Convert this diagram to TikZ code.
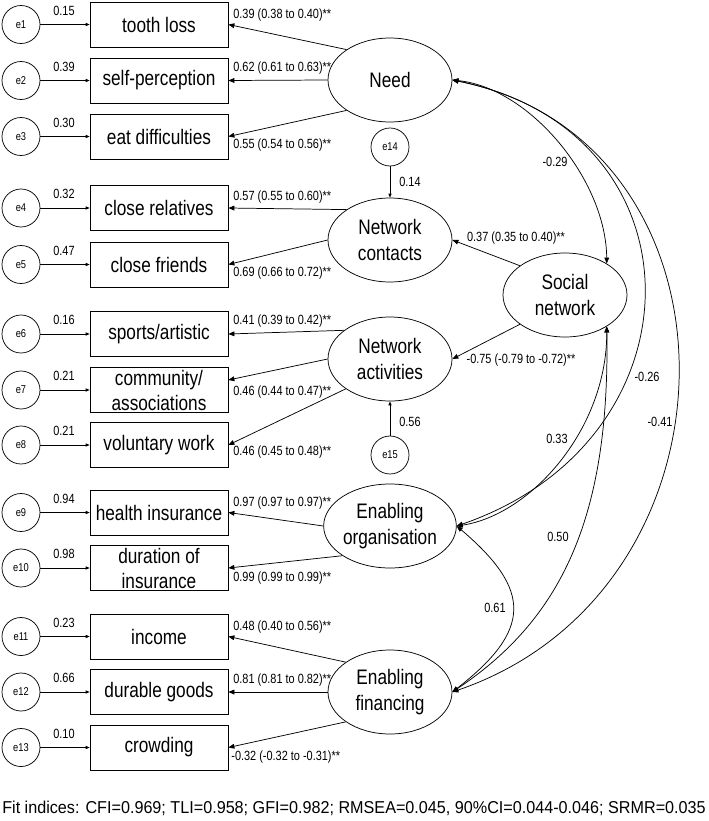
\documentclass[tikz,border=0pt]{standalone}
\usepackage{fontspec}
\setmainfont{Liberation Sans}[FakeStretch=0.82]
\newfontfamily\fitfont{Liberation Sans}[FakeStretch=0.94]
\usetikzlibrary{shapes.geometric,arrows.meta}
\begin{document}
\begin{tikzpicture}[x=0.75pt,y=-0.75pt, line width=0.55pt,
  errc/.style={circle,draw,minimum size=28.5pt,inner sep=0pt,font=\fontsize{8.5}{10}\selectfont},
  obs/.style={rectangle,draw,minimum width=103.5pt,minimum height=33.75pt,inner sep=0pt,align=center,font=\fontsize{15.75}{18.75}\selectfont},
  lat/.style={ellipse,draw,minimum width=93pt,minimum height=63pt,inner sep=0pt,align=center,font=\fontsize{15.75}{19.5}\selectfont},
  lbl/.style={font=\fontsize{10}{12}\selectfont,inner sep=0pt},
  ld/.style={lbl,anchor=west},
  earr/.style={-{Triangle[length=3pt,width=2.4pt]}},
  arr/.style={-{Triangle[length=4.5pt,width=3.6pt]}},
  dbl/.style={{Triangle[length=4.5pt,width=3.6pt]}-{Triangle[length=4.5pt,width=3.6pt]}},
]
\useasboundingbox (0,0) rectangle (709,821);

% observed variables and errors
\foreach \i/\y/\t/\v in {1/24.5/{tooth loss}/0.15, 2/80.5/{self-perception}/0.39, 3/136.5/{eat difficulties}/0.30,
  4/208/{close relatives}/0.32, 5/264.5/{close friends}/0.47, 6/334/{sports\slash artistic}/0.16,
  7/390/{community\slash\\associations}/0.21, 8/445/{voluntary work}/0.21, 9/512.5/{health insurance}/0.94,
  10/568/{duration of\\insurance}/0.98, 11/636.5/{income}/0.23, 12/692/{durable goods}/0.66, 13/747.5/{crowding}/0.10}{
  \node[obs] (b\i) at (159,\y) {\t};
  \node[errc] (e\i) at (21,\y) {e\i};
  \draw[earr] (e\i) -- (b\i);
  \node[lbl] (v\i) at (64,\y-14) {\v};
}

% latent variables
\node[lat] (need) at (390,80) {Need};
\node[lat] (nc) at (390,240) {Network\\contacts};
\node[lat] (na) at (390,359) {Network\\activities};
\node[lat] (sn) at (565,295) {Social\\network};
\node[lat] (eo) at (390,526) {Enabling\\organisation};
\node[lat] (ef) at (390,692) {Enabling\\financing};
\node[errc] (e14) at (390,147) {e14};
\node[errc] (e15) at (390,455) {e15};

% loadings
\draw[arr] (need.145) -- (b1.east);
\draw[arr] (need.west) -- (b2.east);
\draw[arr] (need.215) -- (b3.east);
\draw[arr] (nc.145) -- (b4.east);
\draw[arr] (nc.west) -- (b5.east);
\draw[arr] (na.148) -- (b6.east);
\draw[arr] (na.west) -- ([yshift=7.5pt]b7.east);
\draw[arr] (na.214) -- (b8.east);
\draw[arr] (eo.west) -- (b9.east);
\draw[arr] (eo.212) -- (b10.east);
\draw[arr] (ef.146) -- (b11.east);
\draw[arr] (ef.west) -- (b12.east);
\draw[arr] (ef.214) -- (b13.east);
\draw[arr] (sn.147) -- (nc.east);
\draw[arr] (sn.213) -- (na.east);
\draw[earr] (e14) -- (nc);
\draw[earr] (e15) -- (na);

% loading labels
\node[ld] (l1) at (233,15) {0.39 (0.38 to 0.40)**};
\node[ld] (l2) at (233,68) {0.62 (0.61 to 0.63)**};
\node[ld] (l3) at (233,145) {0.55 (0.54 to 0.56)**};
\node[ld] (l4) at (233,197) {0.57 (0.55 to 0.60)**};
\node[ld] (l5) at (233,273) {0.69 (0.66 to 0.72)**};
\node[ld] (l6) at (233,321) {0.41 (0.39 to 0.42)**};
\node[ld] (l7) at (233,392) {0.46 (0.44 to 0.47)**};
\node[ld] (l8) at (233,452) {0.46 (0.45 to 0.48)**};
\node[ld] (l9) at (233,503) {0.97 (0.97 to 0.97)**};
\node[ld] (l10) at (233,578) {0.99 (0.99 to 0.99)**};
\node[ld] (l11) at (233,627) {0.48 (0.40 to 0.56)**};
\node[ld] (l12) at (233,680) {0.81 (0.81 to 0.82)**};
\node[ld] (l13) at (231,757) {-0.32 (-0.32 to -0.31)**};
\node[lbl] (l14) at (516,238) {0.37 (0.35 to 0.40)**};
\node[lbl] (l15) at (521,360) {-0.75 (-0.79 to -0.72)**};
\node[lbl] (v14) at (410,182) {0.14};
\node[lbl] (v15) at (410,422) {0.56};

% correlations
\draw[dbl] (need.east) .. controls (530,88) and (606,180) .. (sn.37);
\draw[dbl] (need.east) .. controls (707,131) and (707,440) .. (eo.east);
\draw[dbl] (need.east) .. controls (753,140) and (753,589) .. (ef.east);
\draw[dbl] (sn.-37) .. controls (607,430) and (530,515) .. (eo.east);
\draw[dbl] (sn.-37) .. controls (610,520) and (560,620) .. (ef.east);
\draw[dbl] (eo.east) .. controls (532,590) and (532,630) .. (ef.east);
\node[lbl] (c1) at (555,162) {-0.29};
\node[lbl] (c2) at (647,377) {-0.26};
\node[lbl] (c3) at (660,422) {-0.41};
\node[lbl] (c4) at (557,439) {0.33};
\node[lbl] (c5) at (558,537) {0.50};
\node[lbl] (c6) at (495,608) {0.61};

\node[inner sep=0pt,font=\fitfont\fontsize{12.9}{15}\selectfont] (fit) at (354,808) {Fit indices: CFI=0.969; TLI=0.958; GFI=0.982; RMSEA=0.045, 90\%CI=0.044-0.046; SRMR=0.035};
\end{tikzpicture}
\end{document}
